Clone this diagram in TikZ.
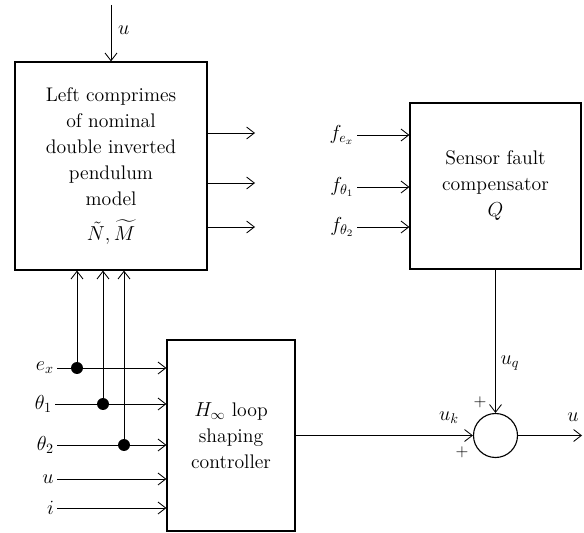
\documentclass[tikz,border=0pt]{standalone}
\usepackage{amsmath,amssymb}
\usetikzlibrary{arrows.meta, positioning, calc}

\begin{document}
\begin{tikzpicture}[x=0.025cm,y=-0.025cm,font=\fontsize{14}{18.5}\selectfont,
  >={Straight Barb[length=5.5pt,width=8.5pt]},line width=0.6pt]
  \tikzset{
    blockbox/.style={draw,line width=0.8pt,align=center,inner sep=0pt},
    jdot/.style={circle,fill,inner sep=0pt,minimum size=8.5pt},
    sumnode/.style={circle,draw,line width=0.8pt,inner sep=0pt,minimum size=1.1cm},
    lbl/.style={inner sep=2pt}
  }
  \useasboundingbox (0,0) rectangle (584,532);

  % ==================== Blocchi ====================
  \node[blockbox,minimum width=4.8cm,minimum height=5.2cm] (plant) at (111,166)
    {Left comprimes\\ of nominal\\ double inverted\\ pendulum\\ model\\[6pt] $\tilde{N},\widetilde{M}$};
  \node[blockbox,minimum width=4.275cm,minimum height=4.15cm] (sensor) at (495.5,186)
    {Sensor fault\\ compensator\\ $Q$};
  \node[blockbox,minimum width=3.2cm,minimum height=4.775cm] (ctrl) at (231,435.5)
    {$H_\infty$ loop\\ shaping\\ controller};
  \node[sumnode] (sum) at (495.5,435.5) {};

  % ==================== Ingresso u e uscite del modello ====================
  \coordinate (utop) at (111,5);
  \draw[->] (utop) -- (utop |- plant.north);
  \node[lbl,anchor=west] (ulbl) at (115,30) {$u$};
  \foreach \yy [count=\k] in {133,183,227} {
    \coordinate (out\k) at (255,\yy);
    \draw[->] (out\k -| plant.east) -- (out\k);
  }

  % ==================== Ingressi del compensatore ====================
  \node[lbl,anchor=east] (fex) at (357,135) {$f_{e_x}$};
  \node[lbl,anchor=east] (fth1) at (357,187) {$f_{\theta_1}$};
  \node[lbl,anchor=east] (fth2) at (357,227) {$f_{\theta_2}$};
  \foreach \f in {fex,fth1,fth2}
    \draw[->] (\f.east) -- (\f -| sensor.west);

  % ==================== Ingressi del controllore ====================
  \node[lbl,anchor=east] (ex) at (57,368) {$e_x$};
  \node[lbl,anchor=east] (th1) at (55,404) {$\theta_1$};
  \node[lbl,anchor=east] (th2) at (57,445) {$\theta_2$};
  \node[lbl,anchor=east] (uin) at (57,479) {$u$};
  \node[lbl,anchor=east] (iin) at (57,508) {$i$};
  \foreach \s in {ex,th1,th2,uin,iin}
    \draw[->] (\s.east) -- (\s -| ctrl.west);

  % punti di derivazione verso il modello
  \node[jdot] (d1) at (77,368) {};
  \node[jdot] (d2) at (103,404) {};
  \node[jdot] (d3) at (124,445) {};
  \foreach \d in {d1,d2,d3}
    \draw[->] (\d.center) -- (\d |- plant.south);

  % ==================== Nodo sommatore ====================
  \draw[->] (ctrl) -- (sum);
  \draw[->] (sensor) -- (sum);
  \coordinate (uout) at (582,435.5);
  \draw[->] (sum) -- (uout);
  \node[lbl] (uq) at (510,363) {$u_q$};
  \node[lbl] (uk) at (449,418) {$u_k$};
  \node[lbl] (uo) at (573,417) {$u$};
  \node[lbl,font=\fontsize{12}{14}\selectfont] (ptop) at (480,402) {$+$};
  \node[lbl,font=\fontsize{12}{14}\selectfont] (pbot) at (462,452) {$+$};
\end{tikzpicture}
\end{document}
